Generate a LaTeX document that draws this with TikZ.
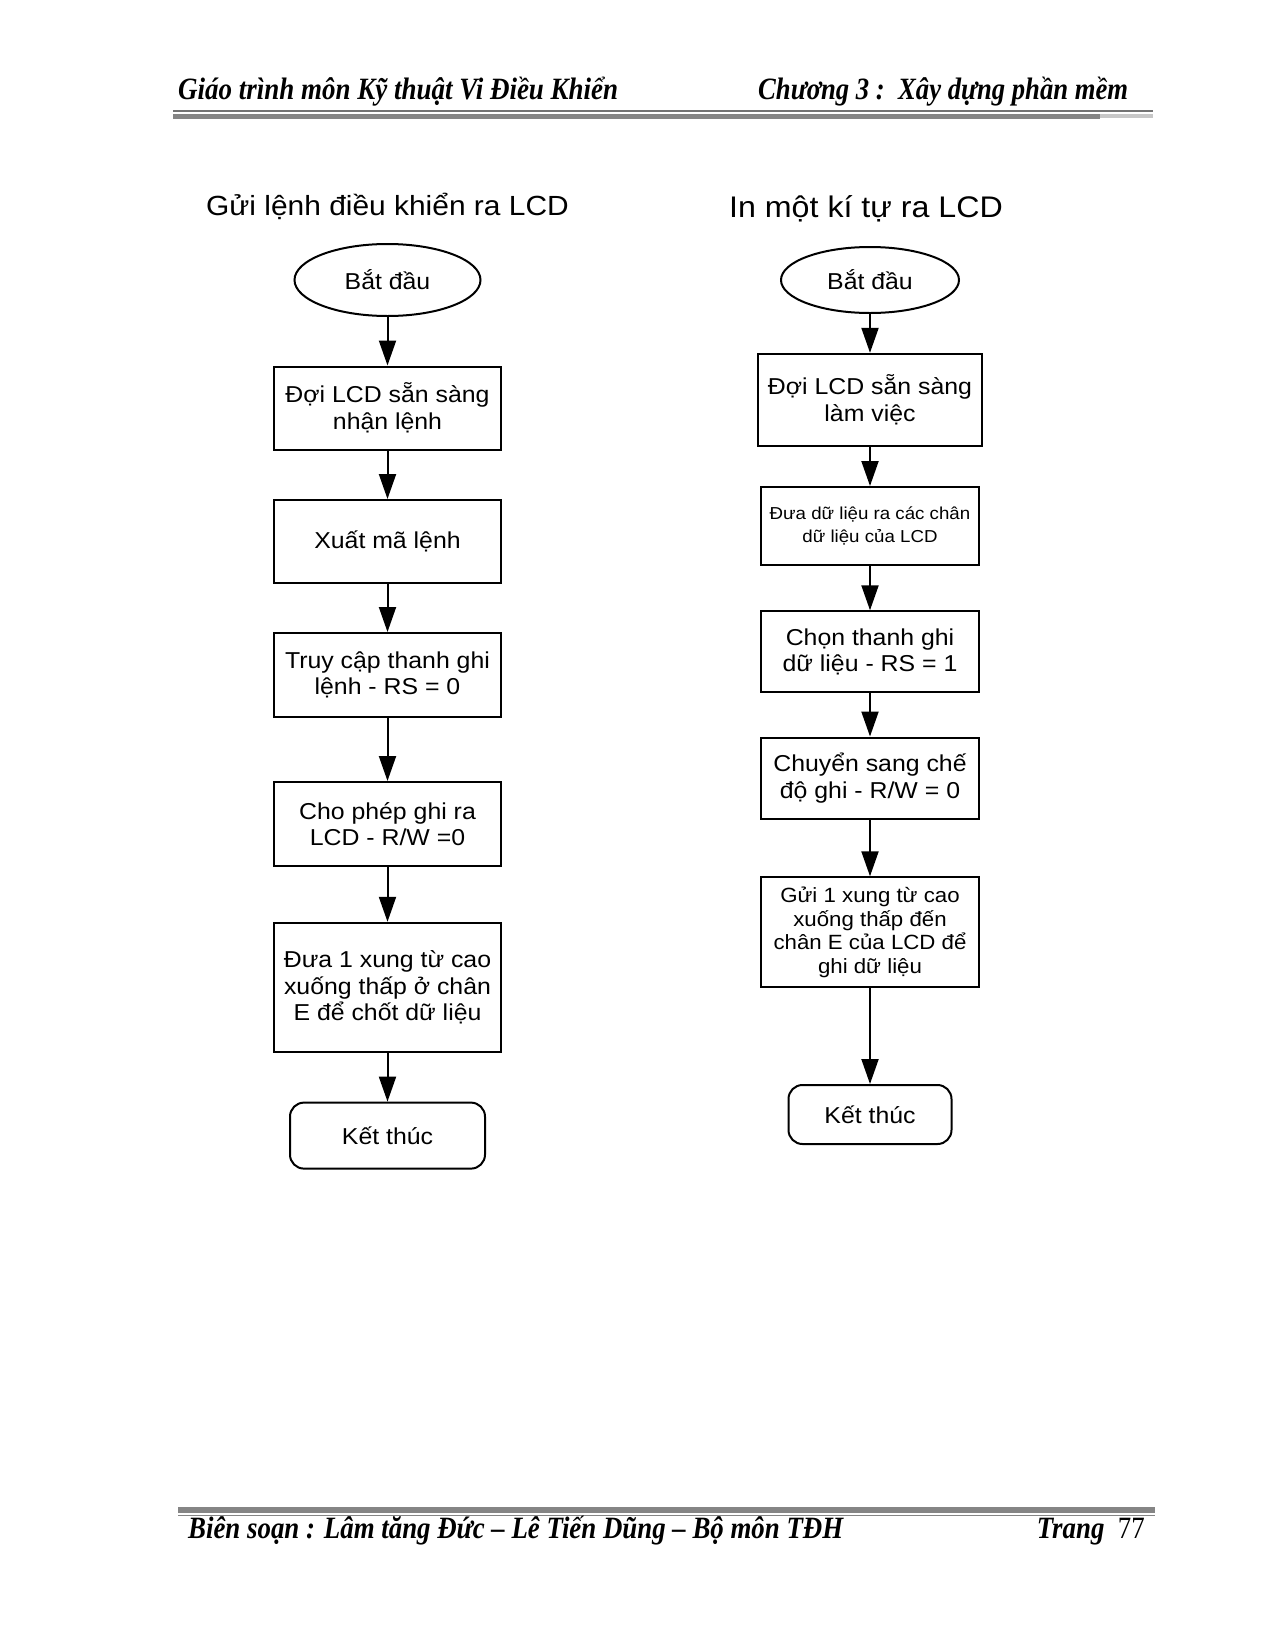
\documentclass[tikz,border=0pt]{standalone}
\usepackage{fontspec}
\setmainfont{Liberation Serif}
\newfontfamily\af[FakeStretch=1.08]{Liberation Sans}
\usetikzlibrary{arrows.meta,shapes.geometric}
\newsavebox\fitbox
\newcommand\fitto[2]{\sbox\fitbox{#2}\pgfmathsetmacro\fitfactor{#1/\the\wd\fitbox}\scalebox{\fitfactor}[1]{\usebox\fitbox}}
\begin{document}
\begin{tikzpicture}[x=1pt,y=-1pt,
  flowbox/.style={draw,line width=2pt,rectangle,inner sep=0pt,align=center,
    font=\af\fontsize{23}{26.5}\selectfont},
  smallbox/.style={flowbox,font=\af\fontsize{17.3}{23}\selectfont},
  midbox/.style={flowbox,font=\af\fontsize{20.6}{23.5}\selectfont},
  startnode/.style={draw,line width=2pt,ellipse,inner sep=0pt,
    font=\af\fontsize{23}{26.5}\selectfont},
  endnode/.style={draw,line width=2pt,rectangle,rounded corners=14pt,inner sep=0pt,
    font=\af\fontsize{23}{26.5}\selectfont},
  ttl/.style={anchor=base,inner sep=0pt},
  hdr/.style={anchor=base west,inner sep=0pt,font=\fontsize{31}{33}\selectfont\bfseries\itshape},
  arr/.style={line width=2pt,-{Triangle[length=25pt,width=17pt]}}
]
\useasboundingbox (0,0) rectangle (1274,1649);
\fill[white] (0,0) rectangle (1274,1649);

% header
\node[hdr] (h1) at (178,99) {\fitto{440}{Giáo trình môn Kỹ thuật Vi Điều Khiển}};
\node[hdr] (h2) at (758,99) {\fitto{370}{Chương 3 :\ \ Xây dựng phần mềm}};
\fill[black!55] (173,110.3) rectangle (1153,111.8);
\fill[black!48] (173,113.5) rectangle (1100,119);
\fill[black!22] (1100,113.5) rectangle (1153,118);

% footer
\fill[black!48] (178,1507.3) rectangle (1155,1513.3);
\fill[black!48] (178,1515) rectangle (1155,1516.4);
\node[hdr] (f1) at (188,1538) {\fitto{655}{Biên soạn : Lâm tăng Đức – Lê Tiến Dũng – Bộ môn TĐH}};
\node[hdr,anchor=base east] (f2) at (1145,1538) {\fitto{108}{Trang\ \ \mdseries\upshape 77}};

% titles
\node[ttl,font=\af\fontsize{27.7}{30}\selectfont] (t1) at (387.5,215) {Gửi lệnh điều khiển ra LCD};
\node[ttl,font=\af\fontsize{29.8}{32}\selectfont] (t2) at (866,217) {In một kí tự ra LCD};

% left flowchart
\node[startnode,minimum width=186pt,minimum height=72pt] (LS) at (387.5,280) {Bắt đầu};
\node[flowbox,minimum width=227pt,minimum height=83pt] (L1) at (387.5,408) {Đợi LCD sẵn sàng\\nhận lệnh};
\node[flowbox,minimum width=227pt,minimum height=83pt] (L2) at (387.5,541.5) {Xuất mã lệnh};
\node[flowbox,minimum width=227pt,minimum height=84pt] (L3) at (387.5,675) {Truy cập thanh ghi\\lệnh - RS = 0};
\node[flowbox,minimum width=227pt,minimum height=84pt] (L4) at (387.5,824) {Cho phép ghi ra\\LCD - R/W =0};
\node[flowbox,minimum width=227pt,minimum height=129pt] (L5) at (387.5,987.3) {Đưa 1 xung từ cao\\xuống thấp ở chân\\E để chốt dữ liệu};
\node[endnode,minimum width=195pt,minimum height=66pt] (LE) at (387.5,1135.6) {Kết thúc};

\draw[arr] (LS) -- (L1);
\draw[arr] (L1) -- (L2);
\draw[arr] (L2) -- (L3);
\draw[arr] (L3) -- (L4);
\draw[arr] (L4) -- (L5);
\draw[arr] (L5) -- (LE);

% right flowchart
\node[startnode,minimum width=178pt,minimum height=66pt] (RS) at (870,280) {Bắt đầu};
\node[flowbox,minimum width=224pt,minimum height=92pt] (R1) at (870,399.8) {Đợi LCD sẵn sàng\\làm việc};
\node[smallbox,minimum width=218pt,minimum height=78pt] (R2) at (870,526) {Đưa dữ liệu ra các chân\\dữ liệu của LCD};
\node[flowbox,minimum width=218pt,minimum height=81pt] (R3) at (870,651.8) {Chọn thanh ghi\\dữ liệu - RS = 1};
\node[flowbox,minimum width=218pt,minimum height=81pt] (R4) at (870,778) {Chuyển sang chế\\độ ghi - R/W = 0};
\node[midbox,minimum width=218pt,minimum height=110pt] (R5) at (870,932.3) {Gửi 1 xung từ cao\\xuống thấp đến\\chân E của LCD để\\ghi dữ liệu};
\node[endnode,minimum width=163pt,minimum height=59pt] (RE) at (870,1114.5) {Kết thúc};

\draw[arr] (RS) -- (R1);
\draw[arr] (R1) -- (R2);
\draw[arr] (R2) -- (R3);
\draw[arr] (R3) -- (R4);
\draw[arr] (R4) -- (R5);
\draw[arr] (R5) -- (RE);
\end{tikzpicture}
\end{document}
